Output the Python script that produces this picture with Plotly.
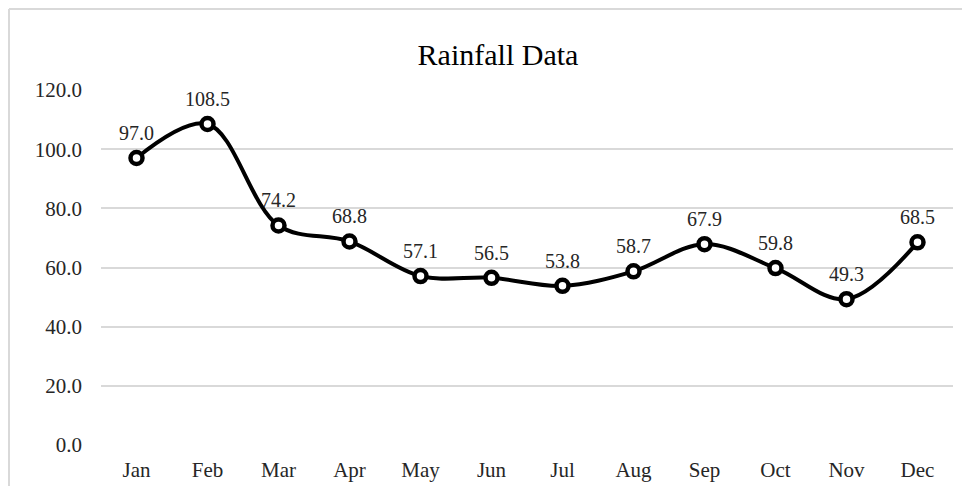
import plotly.graph_objects as go

months = ["Jan", "Feb", "Mar", "Apr", "May", "Jun", "Jul", "Aug", "Sep", "Oct", "Nov", "Dec"]
rainfall = [97.0, 108.5, 74.2, 68.8, 57.1, 56.5, 53.8, 58.7, 67.9, 59.8, 49.3, 68.5]
y_ticks = [0, 20, 40, 60, 80, 100, 120]

FONT = "Liberation Serif, Times New Roman, serif"
TXT = "#262626"

fig = go.Figure()
fig.add_trace(go.Scatter(
    x=months, y=rainfall,
    mode="lines+markers",
    line=dict(color="black", width=4, shape="spline", smoothing=1.0),
    marker=dict(symbol="circle", size=12, color="white", line=dict(color="black", width=4.5)),
    cliponaxis=False,
    hoverinfo="x+y",
))

annotations = [
    dict(x=m, y=v, xref="x", yref="y", text=f"{v:.1f}", showarrow=False,
         yshift=25, xanchor="center", yanchor="middle",
         font=dict(family=FONT, size=20, color=TXT))
    for m, v in zip(months, rainfall)
]

# page has an 8px body margin, so the figure is placed at (8, 8) in the window
W, H = 962, 478
ml, mr, mt, mb = 93, 17, 82, 41
pw, ph = W - ml - mr, H - mt - mb

fig.update_layout(
    width=W, height=H,
    margin=dict(l=ml, r=mr, t=mt, b=mb, autoexpand=False),
    paper_bgcolor="white", plot_bgcolor="white",
    showlegend=False,
    title=dict(text="Rainfall Data", x=490 / W, xref="container", xanchor="center",
               y=1 - 46 / H, yref="container", yanchor="middle",
               font=dict(family=FONT, size=30, color="black")),
    font=dict(family=FONT, size=20, color=TXT),
    annotations=annotations,
    xaxis=dict(type="category", categoryorder="array", categoryarray=months,
               range=[-0.5, 11.5], showgrid=False, zeroline=False, showline=False,
               ticks="", ticklabelstandoff=10,
               tickfont=dict(family=FONT, size=21, color=TXT)),
    yaxis=dict(range=[0, 120], tickvals=y_ticks, ticktext=[f"{v:.1f}" for v in y_ticks],
               showgrid=True, gridcolor="#d9d9d9", gridwidth=1.6, zeroline=False,
               showline=False, ticks="", ticklabelstandoff=18,
               tickfont=dict(family=FONT, size=21, color=TXT)),
    shapes=[
        dict(type="line", xref="paper", yref="paper",
             x0=(1 - ml) / pw, x1=(W + 20 - ml) / pw, y0=1 + (mt - 1) / ph, y1=1 + (mt - 1) / ph,
             line=dict(color="#d9d9d9", width=2)),
        dict(type="line", xref="paper", yref="paper",
             x0=(1 - ml) / pw, x1=(1 - ml) / pw, y0=1 + (mt - 1) / ph, y1=-(mb + 20) / ph,
             line=dict(color="#d9d9d9", width=2)),
    ],
)

fig.write_html("out.html")
